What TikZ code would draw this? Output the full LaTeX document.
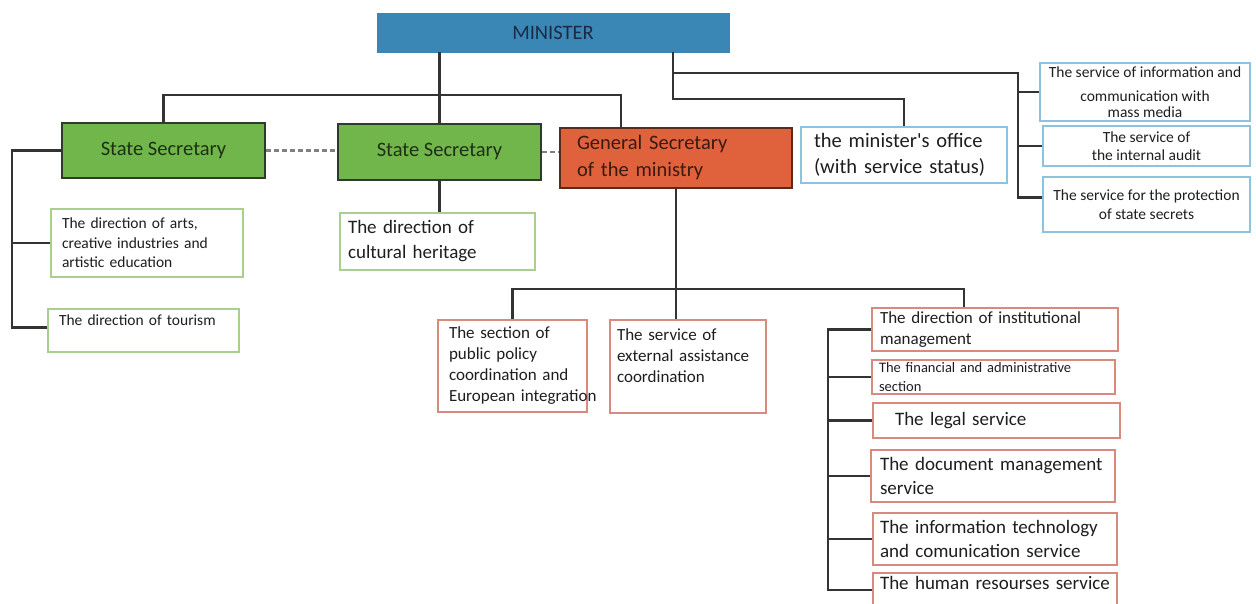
\documentclass[tikz,border=0pt]{standalone}
\usepackage{fontspec}
\setmainfont{Carlito}
\usetikzlibrary{calc}
\definecolor{minblue}{HTML}{3A86B5}
\definecolor{minnavy}{HTML}{1C2B45}
\definecolor{ssgreen}{HTML}{70B64A}
\definecolor{ssedge}{HTML}{2E3A2A}
\definecolor{sstext}{HTML}{1F3015}
\definecolor{gsred}{HTML}{E0623C}
\definecolor{gsedge}{HTML}{5A2A1A}
\definecolor{gstext}{HTML}{3A1A12}
\definecolor{lgreen}{HTML}{A9CF8E}
\definecolor{lblue}{HTML}{8DC3DE}
\definecolor{lred}{HTML}{D98A7E}
\definecolor{linegray}{HTML}{333333}
\definecolor{txt}{HTML}{1E1E1E}
\newcommand{\fs}[2]{\fontsize{#1}{#2}\selectfont}

\begin{document}
\begin{tikzpicture}[x=1pt, y=-1pt,
  link/.style={draw=linegray, line width=2.2pt},
  dashlink/.style={draw=gray, line width=2.6pt, dash pattern=on 5pt off 3pt},
  topbox/.style={rectangle, fill=minblue, draw=minblue, text=minnavy, inner sep=0pt},
  secbox/.style={rectangle, fill=ssgreen, draw=ssedge, line width=1.8pt, text=sstext, inner sep=0pt},
  gsbox/.style={rectangle, fill=gsred, draw=gsedge, line width=1.8pt, text=gstext, inner ysep=0pt, align=left},
  greenbox/.style={rectangle, draw=lgreen, line width=1.6pt, text=txt, inner ysep=0pt, align=left},
  bluebox/.style={rectangle, draw=lblue, line width=1.6pt, text=txt, inner sep=0pt, align=center},
  redbox/.style={rectangle, draw=lred, line width=1.6pt, text=txt, inner ysep=0pt, align=left}]
\useasboundingbox (0,0) rectangle (1256,604);
\fill[white] (0,0) rectangle (1256,604);
\clip (0,0) rectangle (1256,604);

% top
\node[topbox, minimum width=352pt, minimum height=39pt, font=\fs{20.5}{25}] (min) at (553,32.5) {MINISTER};

% secretaries
\node[secbox, minimum width=203pt, minimum height=55pt, font=\fs{20.5}{25}] (ss1) at (163.5,150.5) {State Secretary};
\node[secbox, minimum width=203pt, minimum height=56pt, font=\fs{20.5}{25}] (ss2) at (439.5,152) {State Secretary};
\node[gsbox, text width=198pt, inner xsep=17pt, minimum height=60pt, font=\fs{20.5}{27}] (gs) at (676,158) {General Secretary\\ of the ministry};
\node[bluebox, minimum width=206pt, minimum height=56pt, inner xsep=13pt, text width=180pt, align=left, font=\fs{20.5}{26}] (off) at (904,155) {the minister\textquotesingle s office\\ (with service status)};

% services under the minister
\node[bluebox, minimum width=210pt, minimum height=58pt, font=\fs{15.5}{16}] (med) at (1145,92) {The service of information and\\[8pt] communication with\\ mass media};
\node[bluebox, minimum width=207pt, minimum height=40pt, font=\fs{15.5}{18}] (aud) at (1146.5,146) {The service of\\ the internal audit};
\node[bluebox, minimum width=207pt, minimum height=55pt, font=\fs{15.5}{19}] (sec) at (1146.5,204.5) {The service for the protection\\ of state secrets};

% under the state secretaries
\node[greenbox, text width=170pt, inner xsep=11pt, minimum height=68pt, font=\fs{15.5}{19.5}] (arts) at (147,243) {The direction of arts,\\ creative industries and\\ artistic education};
\node[greenbox, text width=169pt, inner xsep=11pt, minimum height=43pt, font=\fs{15.5}{21}] (tour) at (143.5,330.5) {The direction of tourism\\ \mbox{}};
\node[greenbox, text width=179pt, inner xsep=8pt, minimum height=57pt, font=\fs{19}{25}] (her) at (437.5,241.5) {The direction of\\ cultural heritage};

% under the general secretary
\node[redbox, text width=127pt, inner xsep=11pt, minimum height=92pt, font=\fs{17}{21}] (pol) at (512.5,366) {The section of\\ public policy\\ coordination and\\ \mbox{European integration}};
\node[redbox, text width=142pt, inner xsep=7pt, minimum height=93pt, font=\fs{17}{21}] (ext) at (688,366.5) {The service of\\ external assistance\\ coordination\\ \mbox{}};
\node[redbox, text width=230pt, inner xsep=8pt, minimum height=43pt, font=\fs{17}{21}] (ins) at (995,329.5) {The direction of institutional\\ management};
\node[redbox, text width=229pt, inner xsep=7pt, minimum height=34pt, font=\fs{14.5}{19}] (fin) at (993.5,377) {The financial and administrative\\ section};
\node[redbox, text width=203pt, inner xsep=22pt, minimum height=35pt, font=\fs{19}{23}] (leg) at (996.5,420.5) {The legal service};
\node[redbox, text width=226pt, inner xsep=9pt, minimum height=52pt, font=\fs{19}{24}] (doc) at (993,476) {The document management\\ service};
\node[redbox, text width=230pt, inner xsep=7pt, minimum height=52pt, font=\fs{19}{24}] (itc) at (995,539) {The information technology\\ and comunication service};
\node[redbox, text width=230pt, inner xsep=7pt, minimum height=42pt, font=\fs{19}{22}] (hum) at (995,594) {The human resourses service\\ \mbox{}};

% minister links
\coordinate (gsin) at ($(gs.north west)+(62,0)$);
\coordinate (minr) at ($(min.south east)+(-56,0)$);
\coordinate (rspine) at (1018,73);
\draw[link] (min.south -| ss2.north) -- (ss2.north);
\draw[link] (ss1.north) -- ++(0,-27) -| (gsin);
\draw[link] (minr) |- ([yshift=27pt]off.north) -- (off.north);
\draw[link] (minr) |- (rspine) |- ($(sec.west)+(0,-7)$);
\draw[link] (rspine |- med.west) -- (med.west);
\draw[link] (rspine |- aud.west) -- (aud.west);
\draw[dashlink] (ss1.east) -- (ss1.east -| ss2.west);
\draw[dashlink] (ss2.east) -- (ss2.east -| gs.west);

% state secretaries
\coordinate (lspine) at (12,150);
\draw[link] (ss1.west) -- (ss1.west -| lspine) |- ($(tour.west)+(0,-3)$);
\draw[link] (lspine |- arts.west) -- (arts.west);
\draw[link] (ss2.south) -- (ss2.south |- her.north);

% general secretary
\coordinate (insin) at ($(ins.north)+(-31,0)$);
\coordinate (dspine) at (828,0);
\draw[link] (gs.south) -- (gs.south |- ext.north);
\draw[link] (pol.north) -- ++(0,-30) -| (insin);
\draw[link] (ins.west) -- (dspine |- ins.west) |- ($(hum.west)+(0,-4)$);
\draw[link] (dspine |- fin.west) -- (fin.west);
\draw[link] (dspine |- leg.west) -- (leg.west);
\draw[link] (dspine |- doc.west) -- (doc.west);
\draw[link] (dspine |- itc.west) -- (itc.west);
\end{tikzpicture}
\end{document}
